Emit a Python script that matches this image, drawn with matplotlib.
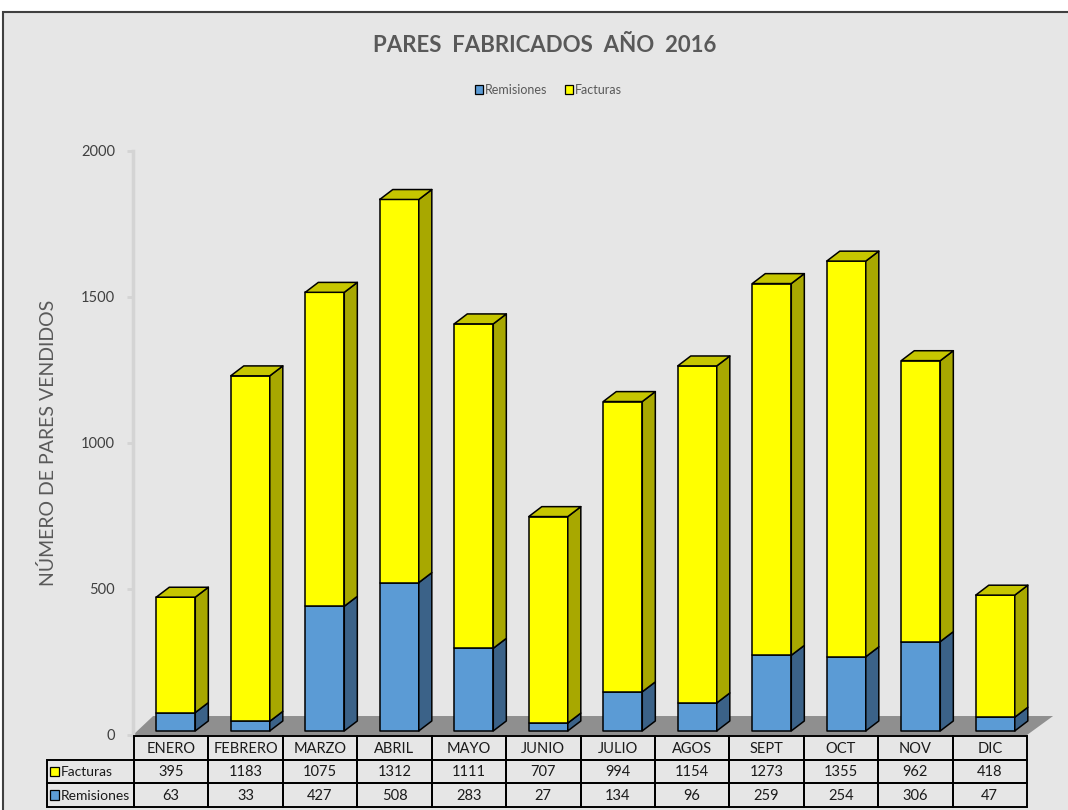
import matplotlib.pyplot as plt
from matplotlib.patches import Polygon, Rectangle

# datos del grafico
meses = ["ENERO", "FEBRERO", "MARZO", "ABRIL", "MAYO", "JUNIO",
         "JULIO", "AGOS", "SEPT", "OCT", "NOV", "DIC"]
facturas = [395, 1183, 1075, 1312, 1111, 707, 994, 1154, 1273, 1355, 962, 418]
remisiones = [63, 33, 427, 508, 283, 27, 134, 96, 259, 254, 306, 47]
yticks = [0, 500, 1000, 1500, 2000]

W, H = 1068, 810
BG = "#E6E6E6"
AZUL, AZUL_LADO = "#5B9BD5", "#3B6288"
AMAR, AMAR_LADO, AMAR_TOP = "#FFFF00", "#A8A800", "#C6C600"
GRIS_TXT = "#595959"
plt.rcParams['font.family'] = ['Lato', 'DejaVu Sans']

fig = plt.figure(figsize=(W / 100, H / 100), dpi=100)
fig.patch.set_facecolor("white")


def fx(px):
    return px / W


def fy(py):
    return 1 - py / H


# marco del grafico
fig.patches.append(Rectangle((fx(3), fy(830)), fx(1100), fy(12) - fy(830),
                             transform=fig.transFigure, facecolor=BG,
                             edgecolor="#404040", linewidth=1.5, zorder=-10))

# ejes principales
ax = fig.add_axes([fx(133), fy(735), fx(1027) - fx(133), fy(151) - fy(735)])
ax.set_facecolor("none")
ax.set_xlim(-0.5, 11.5)
ax.set_ylim(0, 2000)
for s in ["top", "right", "bottom"]:
    ax.spines[s].set_visible(False)
ax.spines["left"].set_color("#D4D4D4")
ax.spines["left"].set_linewidth(2.5)
ax.set_xticks([])
ax.set_yticks(yticks)
ax.tick_params(axis="y", length=4, width=2, color="#D4D4D4", pad=9,
               labelsize=10.5, labelcolor="#404040")
fig.text(fx(48), fy(443), "NÚMERO DE PARES VENDIDOS", rotation=90,
         ha="center", va="center", fontsize=14, color=GRIS_TXT)

# piso 3D
n = len(meses)
ax.add_patch(Polygon([(-0.5, 0), (n - 0.5, 0), (n - 0.5 + 0.35, 65),
                      (-0.5 + 0.27, 65)], closed=True, facecolor="#8F8F8F",
                      edgecolor="none", zorder=1, clip_on=False))

# barras 3D apiladas
off_x, half_w = 0.074, 0.262
dx, dy, base = 0.175, 34, 14


def caja(x0, x1, y0, y1, cf, cl, ct=None):
    kw = dict(closed=True, edgecolor="black", linewidth=1.1, zorder=3,
              clip_on=False, joinstyle="round")
    ax.add_patch(Polygon([(x0, y0), (x1, y0), (x1, y1), (x0, y1)],
                         facecolor=cf, **kw))
    ax.add_patch(Polygon([(x1, y0), (x1 + dx, y0 + dy), (x1 + dx, y1 + dy),
                          (x1, y1)], facecolor=cl, **kw))
    if ct is not None:
        ax.add_patch(Polygon([(x0, y1), (x1, y1), (x1 + dx, y1 + dy),
                              (x0 + dx, y1 + dy)], facecolor=ct, **kw))


for i in range(n):
    x0 = i + off_x - half_w
    x1 = i + off_x + half_w
    r, f = remisiones[i], facturas[i]
    caja(x0, x1, base, base + r, AZUL, AZUL_LADO)
    caja(x0, x1, base + r, base + r + f, AMAR, AMAR_LADO, AMAR_TOP)

# titulo y leyenda
fig.text(fx(545), fy(46), "PARES  FABRICADOS  AÑO  2016",
         ha="center", va="center", fontsize=16, fontweight="bold",
         color=GRIS_TXT)
leg_items = [("Remisiones", AZUL), ("Facturas", AMAR)]
lx = 475
for nombre, col in leg_items:
    fig.patches.append(Rectangle((fx(lx), fy(94)), fx(8), fy(85) - fy(94),
                                 transform=fig.transFigure, facecolor=col,
                                 edgecolor="black", linewidth=0.9))
    fig.text(fx(lx + 10), fy(89.5), nombre, ha="left", va="center",
             fontsize=9, color=GRIS_TXT)
    lx += 90

# tabla de datos
tab = fig.add_axes([fx(47), fy(807), fx(1027) - fx(47), fy(736) - fy(807)])
tab.set_axis_off()
col_w = (1027 - 134) / n
lab_w = (134 - 47) / col_w
tab.set_xlim(-0.5 - lab_w, n - 0.5)
tab.set_ylim(3, 0)
filas = [("Facturas", AMAR, facturas), ("Remisiones", AZUL, remisiones)]
lw = 1.4
for i, m in enumerate(meses):
    tab.add_patch(Rectangle((i - 0.5, 0), 1, 1, facecolor="none",
                            edgecolor="black", linewidth=lw, clip_on=False))
    tab.text(i, 0.55, m, ha="center", va="center", fontsize=10.5,
             color="#1A1A1A")
for j, (nombre, col, vals) in enumerate(filas):
    yr = j + 1
    tab.add_patch(Rectangle((-0.5 - lab_w, yr), lab_w, 1, facecolor="none",
                            edgecolor="black", linewidth=lw, clip_on=False))
    tab.add_patch(Rectangle((-0.5 - lab_w + 0.04, yr + 0.3), 0.12, 0.4,
                            facecolor=col, edgecolor="black", linewidth=0.9,
                            clip_on=False))
    tab.text(-0.5 - lab_w + 0.18, yr + 0.52, nombre, ha="left", va="center",
             fontsize=10, color="#1A1A1A")
    for i, v in enumerate(vals):
        tab.add_patch(Rectangle((i - 0.5, yr), 1, 1, facecolor="none",
                                edgecolor="black", linewidth=lw,
                                clip_on=False))
        tab.text(i, yr + 0.52, str(v), ha="center", va="center",
                 fontsize=10.5, color="#1A1A1A")

fig.savefig("out.png", dpi=100)
